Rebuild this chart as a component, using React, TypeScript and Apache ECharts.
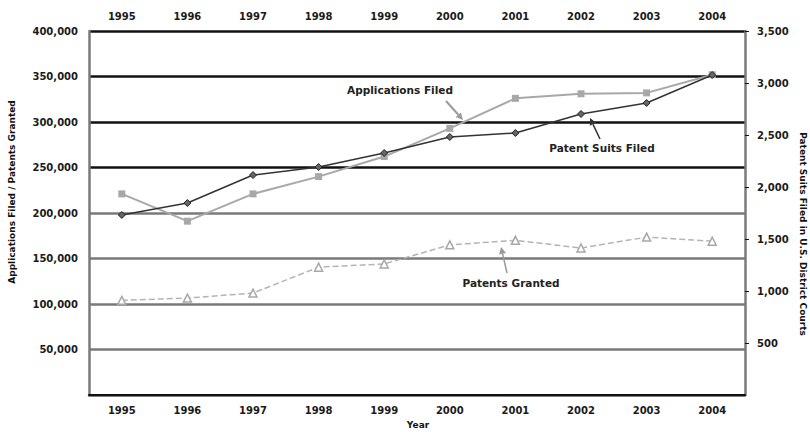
import React, { useEffect, useRef } from "react";
import * as echarts from "echarts";

const years = ["1995", "1996", "1997", "1998", "1999", "2000", "2001", "2002", "2003", "2004"];
const applicationsFiled = [221000, 191000, 221000, 240000, 262000, 293000, 326000, 331000, 332000, 352000];
const patentsGranted = [104000, 106500, 112000, 140500, 144000, 165000, 170000, 161500, 173500, 169000];
const patentSuitsFiled = [1731, 1846, 2115, 2192, 2327, 2481, 2519, 2702, 2808, 3077];

const FONT = "DejaVu Sans";
const gridColors = ["#7a7a7a", "#7a7a7a", "#7a7a7a", "#7a7a7a", "#7a7a7a", "#111", "#111", "#111", "#111"];

function arrow(x1: number, y1: number, x2: number, y2: number, color: string, w: number) {
  const ang = Math.atan2(y2 - y1, x2 - x1);
  const L = 7, H = 3.5;
  const bx = x2 - L * Math.cos(ang), by = y2 - L * Math.sin(ang);
  const px = -Math.sin(ang) * H, py = Math.cos(ang) * H;
  return [
    { type: "line", shape: { x1, y1, x2: bx, y2: by }, style: { stroke: color, lineWidth: w }, z: 100 },
    { type: "polygon", shape: { points: [[x2, y2], [bx + px, by + py], [bx - px, by - py]] }, style: { fill: color }, z: 100 },
  ];
}

export default function App() {
  const ref = useRef<HTMLDivElement>(null);
  useEffect(() => {
    const chart = echarts.init(ref.current!, null, { renderer: "svg" });
    const labelStyle = { fontFamily: FONT, fontSize: 10, fontWeight: "bold" as const, color: "#1a1a1a" };
    chart.setOption({
      animation: false,
      backgroundColor: "#fff",
      grid: { left: 89, right: 65, top: 31, bottom: 37 },
      xAxis: [
        {
          type: "category", data: years, position: "bottom", boundaryGap: true,
          axisLine: { lineStyle: { color: "#7a7a7a", width: 2.5 } },
          axisTick: { length: 4, lineStyle: { color: "#222" } },
          axisLabel: { ...labelStyle, margin: 10 },
        },
        {
          type: "category", data: years, position: "top", boundaryGap: true,
          axisLine: { lineStyle: { color: "#111", width: 2 } },
          axisTick: { length: 5, lineStyle: { color: "#111" } },
          axisLabel: { ...labelStyle, margin: 10 },
        },
      ],
      yAxis: [
        {
          type: "value", min: 0, max: 400000, interval: 50000, position: "left",
          axisLine: { show: true, lineStyle: { color: "#7a7a7a", width: 2.5 } },
          axisTick: { show: false },
          axisLabel: { ...labelStyle, margin: 11, showMinLabel: false, formatter: (v: number) => v.toLocaleString("en-US") },
          splitLine: { show: true, lineStyle: { color: gridColors, width: 2.5 } },
        },
        {
          type: "value", min: 0, max: 3500, interval: 500, position: "right",
          axisLine: { show: true, lineStyle: { color: "#7a7a7a", width: 2.5 } },
          axisTick: { show: true, length: 4, lineStyle: { color: "#111" } },
          axisLabel: { ...labelStyle, margin: 12, showMinLabel: false, formatter: (v: number) => v.toLocaleString("en-US") },
          splitLine: { show: false },
        },
      ],
      series: [
        {
          name: "Patents Granted", type: "line", data: patentsGranted, xAxisIndex: 0, yAxisIndex: 0,
          symbol: "triangle", symbolSize: 8,
          lineStyle: { color: "#b4b4b4", width: 1.5, type: "dashed" },
          itemStyle: { color: "#fff", borderColor: "#a8a8a8", borderWidth: 1.5 },
          z: 3,
        },
        {
          name: "Applications Filed", type: "line", data: applicationsFiled, xAxisIndex: 0, yAxisIndex: 0,
          symbol: "rect", symbolSize: 7,
          lineStyle: { color: "#a8a8a8", width: 2 },
          itemStyle: { color: "#a8a8a8" },
          z: 4,
        },
        {
          name: "Patent Suits Filed", type: "line", data: patentSuitsFiled, xAxisIndex: 0, yAxisIndex: 1,
          symbol: "diamond", symbolSize: 7,
          lineStyle: { color: "#333", width: 1.5 },
          itemStyle: { color: "#666", borderColor: "#222", borderWidth: 1 },
          z: 5,
        },
      ],
      graphic: [
        { type: "text", x: 12, y: 192, rotation: Math.PI / 2, style: { text: "Applications Filed / Patents Granted", font: `bold 9px "${FONT}"`, fill: "#111", textAlign: "center", textVerticalAlign: "middle" } },
        { type: "text", x: 803, y: 234, rotation: -Math.PI / 2, style: { text: "Patent Suits Filed in U.S. District Courts", font: `bold 9px "${FONT}"`, fill: "#111", textAlign: "center", textVerticalAlign: "middle" } },
        { type: "text", x: 418, y: 425, style: { text: "Year", font: `bold 9px "${FONT}"`, fill: "#111", textAlign: "center", textVerticalAlign: "middle" } },
        { type: "text", x: 400, y: 90, style: { text: "Applications Filed", font: `bold 10.5px "${FONT}"`, fill: "#222", textAlign: "center", textVerticalAlign: "middle" }, z: 100 },
        { type: "text", x: 602, y: 148, style: { text: "Patent Suits Filed", font: `bold 10.5px "${FONT}"`, fill: "#222", textAlign: "center", textVerticalAlign: "middle" }, z: 100 },
        { type: "text", x: 511, y: 283, style: { text: "Patents Granted", font: `bold 10.5px "${FONT}"`, fill: "#222", textAlign: "center", textVerticalAlign: "middle" }, z: 100 },
        ...arrow(446, 101, 463, 120, "#9a9a9a", 2),
        ...arrow(600, 139, 590, 118, "#333", 1.5),
        ...arrow(507, 273, 501, 247, "#9a9a9a", 1.5),
      ],
    });
    return () => chart.dispose();
  }, []);
  return <div ref={ref} style={{ width: 810, height: 432, position: "absolute", left: 0, top: 0 }} />;
}
